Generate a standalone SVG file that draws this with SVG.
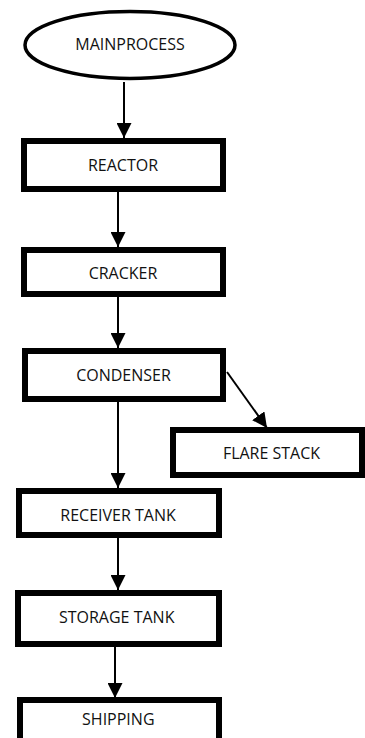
<svg xmlns="http://www.w3.org/2000/svg" width="365" height="738" viewBox="0 0 365 738">
<style>
.box{fill:#fff;stroke:#000;stroke-width:6}
.oval{fill:#fff;stroke:#000;stroke-width:3.5}
.lbl{font-family:"Open Sans","Liberation Sans",sans-serif;font-size:16px;fill:#111;text-anchor:middle}
.con{stroke:#000;stroke-width:2;fill:none;marker-end:url(#ah)}
</style>
<defs>
<marker id="ah" markerUnits="userSpaceOnUse" markerWidth="15" markerHeight="15" refX="15" refY="7.5" orient="auto">
<path d="M0,0 L15,7.5 L0,15 z" fill="#000"/>
</marker>
</defs>
<rect width="365" height="738" fill="#fff"/>
<g id="connectors">
<line class="con" x1="124" y1="82" x2="124" y2="138"/>
<line class="con" x1="118" y1="192" x2="118" y2="247"/>
<line class="con" x1="118" y1="297" x2="118" y2="348"/>
<line class="con" x1="118" y1="402" x2="118" y2="488"/>
<line class="con" x1="118" y1="538" x2="118" y2="590"/>
<line class="con" x1="115" y1="647" x2="115" y2="698"/>
<line class="con" x1="227" y1="372" x2="267" y2="428"/>
</g>
<g id="mainprocess">
<ellipse class="oval" cx="130" cy="45" rx="105" ry="33.5"/>
<text class="lbl" x="130" y="50">MAINPROCESS</text>
</g>
<g id="reactor">
<rect class="box" x="24" y="141" width="199" height="48"/>
<text class="lbl" x="123" y="170.5">REACTOR</text>
</g>
<g id="cracker">
<rect class="box" x="24" y="250" width="199" height="44"/>
<text class="lbl" x="123" y="279">CRACKER</text>
</g>
<g id="condenser">
<rect class="box" x="25" y="351" width="198" height="48"/>
<text class="lbl" x="123.5" y="380.5">CONDENSER</text>
</g>
<g id="flarestack">
<rect class="box" x="173" y="430" width="189" height="45"/>
<text class="lbl" x="271.5" y="459">FLARE STACK</text>
</g>
<g id="receivertank">
<rect class="box" x="19" y="491" width="200" height="44"/>
<text class="lbl" x="118" y="520.5">RECEIVER TANK</text>
</g>
<g id="storagetank">
<rect class="box" x="18" y="593" width="201" height="51"/>
<text class="lbl" x="116.7" y="623.3">STORAGE TANK</text>
</g>
<g id="shipping">
<rect class="box" x="20" y="700" width="199" height="60"/>
<text class="lbl" x="118.3" y="725">SHIPPING</text>
</g>
</svg>
